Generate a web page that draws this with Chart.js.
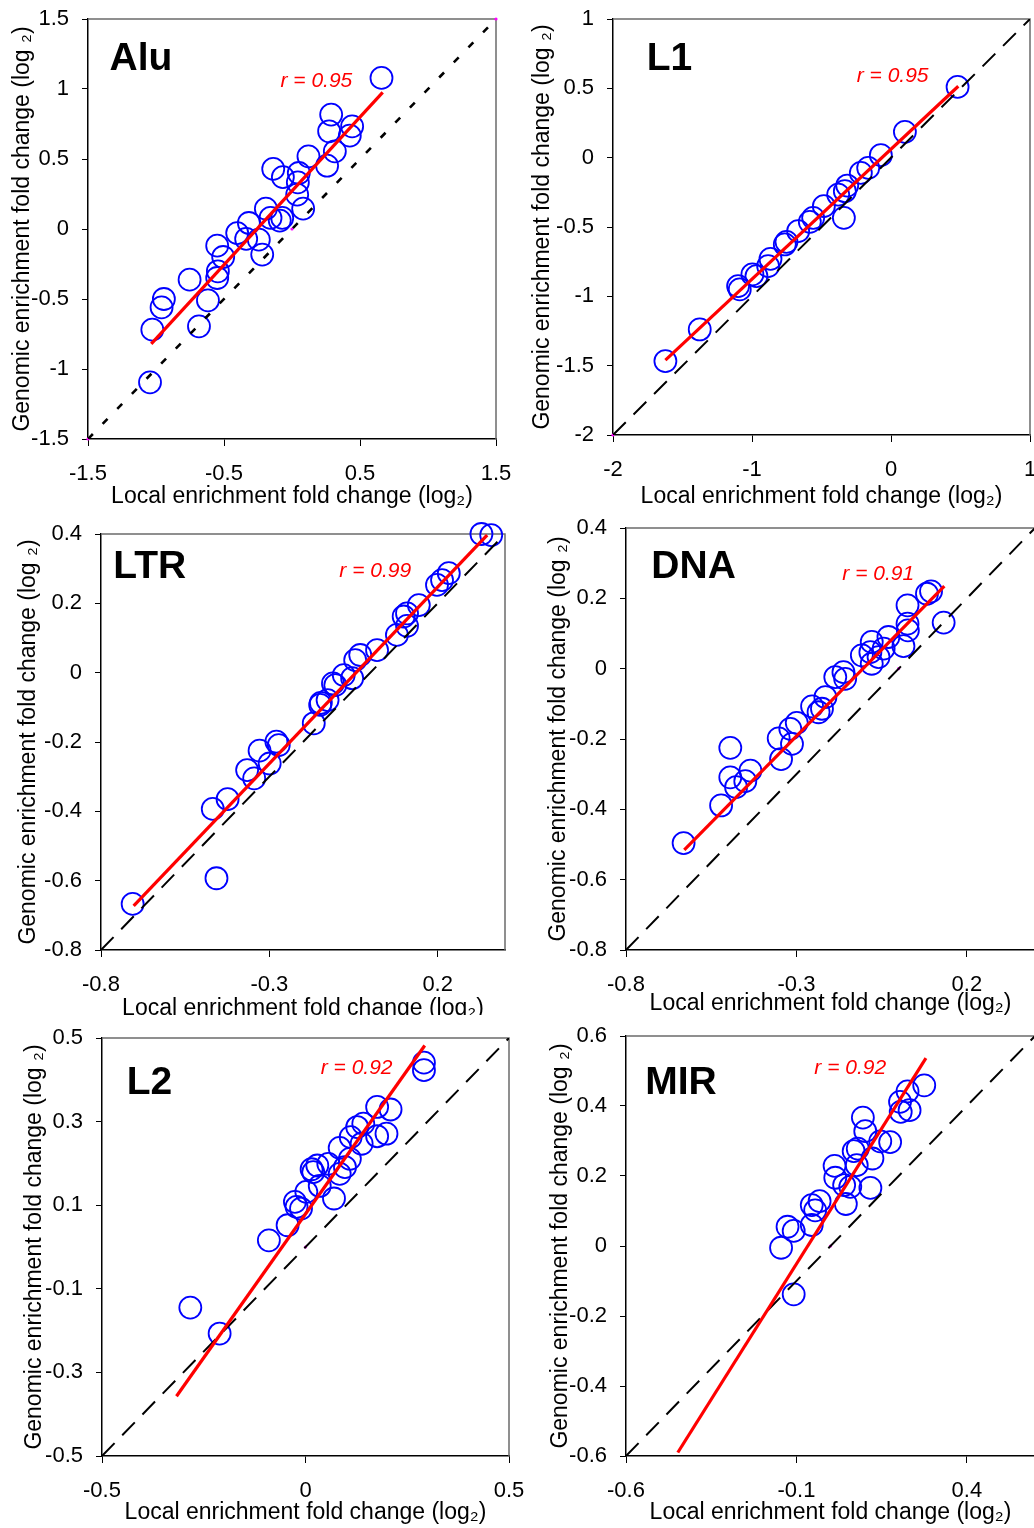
<!DOCTYPE html>
<html>
<head>
<meta charset="utf-8">
<script src="https://cdn.jsdelivr.net/npm/chart.js@4.4.1/dist/chart.umd.min.js"></script>
<style>
    html, body { margin: 0; padding: 0; background: #fff; }
    body { width: 1034px; height: 1528px; position: relative; overflow: hidden; }
    canvas { position: absolute; }
</style>
</head>
<body>
<script>
// 1. Data (local = x, genomic = y, both log2 fold change)
const aluLocal = [0.658, 0.288, 0.442, 0.425, 0.273, 0.315, 0.258, 0.121, -0.138, -0.067, 0.05, 0.043, 0.038, 0.082, -0.192, -0.158, -0.072, -0.09, -0.317, -0.403, -0.337, -0.244, -0.219, -0.55, -0.506, -0.545, -0.55, -0.753, -0.618, -0.942, -0.959, -1.027, -0.684, -1.044];
const aluGenomic = [1.079, 0.817, 0.733, 0.667, 0.698, 0.555, 0.452, 0.519, 0.429, 0.371, 0.40, 0.333, 0.245, 0.145, 0.145, 0.079, 0.079, 0.06, 0.043, -0.029, -0.071, -0.076, -0.183, -0.119, -0.2, -0.302, -0.35, -0.362, -0.51, -0.5, -0.56, -0.719, -0.695, -1.095];
const aluFitX = [-1.035, 0.667];
const aluFitY = [-0.821, 0.976];

const l1Local = [0.479, 0.1, -0.073, -0.164, -0.217, -0.315, -0.332, -0.38, -0.339, -0.483, -0.56, -0.584, -0.668, -0.752, -0.764, -0.867, -0.884, -0.968, -0.997, -1.088, -1.1, -1.376, -1.623];
const l1Genomic = [0.51, 0.186, 0.018, -0.074, -0.11, -0.201, -0.242, -0.266, -0.434, -0.35, -0.434, -0.463, -0.53, -0.607, -0.626, -0.73, -0.782, -0.854, -0.842, -0.95, -0.926, -1.239, -1.467];
const l1FitX = [-1.623, 0.484];
const l1FitY = [-1.46, 0.515];

const ltrLocal = [0.33, 0.359, 0.233, 0.198, 0.213, 0.144, 0.109, 0.099, 0.109, 0.079, 0.02, -0.03, -0.045, -0.054, -0.079, -0.104, -0.111, -0.127, -0.147, -0.149, -0.168, -0.272, -0.279, -0.329, -0.299, -0.366, -0.345, -0.424, -0.468, -0.457, -0.706];
const ltrGenomic = [0.4, 0.397, 0.287, 0.253, 0.267, 0.195, 0.171, 0.162, 0.135, 0.109, 0.065, 0.051, 0.036, -0.016, -0.007, -0.036, -0.031, -0.079, -0.087, -0.093, -0.146, -0.209, -0.199, -0.225, -0.262, -0.281, -0.305, -0.365, -0.393, -0.593, -0.667];
const ltrFitX = [-0.703, 0.347];
const ltrFitY = [-0.673, 0.397];

const dnaLocal = [0.095, 0.083, 0.026, 0.132, 0.026, 0.027, 0.014, -0.03, -0.044, -0.079, -0.083, -0.059, -0.079, -0.108, -0.162, -0.186, -0.157, -0.215, -0.225, -0.254, -0.235, -0.299, -0.318, -0.352, -0.313, -0.345, -0.494, -0.435, -0.494, -0.45, -0.477, -0.521, -0.631];
const dnaGenomic = [0.22, 0.213, 0.18, 0.131, 0.128, 0.109, 0.064, 0.09, 0.057, 0.076, 0.047, 0.033, 0.014, 0.038, -0.01, -0.024, -0.029, -0.081, -0.114, -0.107, -0.124, -0.154, -0.171, -0.198, -0.214, -0.257, -0.225, -0.29, -0.309, -0.32, -0.337, -0.389, -0.496];
const dnaFitX = [-0.629, 0.134];
const dnaFitY = [-0.515, 0.235];

const l2Local = [0.291, 0.291, 0.176, 0.209, 0.199, 0.176, 0.142, 0.127, 0.138, 0.111, 0.084, 0.109, 0.097, 0.084, 0.056, 0.029, 0.015, 0.019, 0.035, 0.07, 0.002, -0.026, -0.022, -0.011, -0.044, -0.09, -0.283, -0.211];
const l2Genomic = [0.441, 0.423, 0.335, 0.329, 0.271, 0.265, 0.295, 0.287, 0.247, 0.263, 0.237, 0.211, 0.191, 0.175, 0.199, 0.195, 0.186, 0.179, 0.146, 0.116, 0.132, 0.108, 0.096, 0.092, 0.052, 0.016, -0.145, -0.207];
const l2FitX = [-0.317, 0.293];
const l2FitY = [-0.357, 0.482];

const mirLocal = [0.275, 0.226, 0.204, 0.232, 0.206, 0.095, 0.102, 0.175, 0.146, 0.068, 0.08, 0.123, 0.077, 0.012, 0.014, 0.04, 0.058, 0.117, 0.045, -0.032, -0.055, -0.045, -0.055, -0.126, -0.108, -0.145, -0.108];
const mirGenomic = [0.459, 0.442, 0.412, 0.388, 0.383, 0.367, 0.328, 0.297, 0.299, 0.271, 0.278, 0.25, 0.231, 0.229, 0.195, 0.174, 0.169, 0.166, 0.12, 0.128, 0.117, 0.102, 0.06, 0.055, 0.043, -0.005, -0.138];
const mirFitX = [-0.448, 0.28];
const mirFitY = [-0.59, 0.537];

// stray magenta marks visible in the source figure
const aluMarkX = [-1.5, 0, 1.5];
const aluMarkY = [-1.5, 0, 1.5];
const l1MarkX = [-2];
const l1MarkY = [-2];
const zeroMarkX = [0];
const zeroMarkY = [0];

// tick labels
const aluTicksX = [-1.5, -0.5, 0.5, 1.5];
const aluTicksY = [-1.5, -1, -0.5, 0, 0.5, 1, 1.5];
const l1TicksX = [-2, -1, 0, 1];
const l1TicksY = [-2, -1.5, -1, -0.5, 0, 0.5, 1];
const te8TicksX = [-0.8, -0.3, 0.2];
const te8TicksY = [-0.8, -0.6, -0.4, -0.2, 0, 0.2, 0.4];
const l2TicksX = [-0.5, 0, 0.5];
const l2TicksY = [-0.5, -0.3, -0.1, 0.1, 0.3, 0.5];
const mirTicksX = [-0.6, -0.1, 0.4];
const mirTicksY = [-0.6, -0.4, -0.2, 0, 0.2, 0.4, 0.6];

const xTitle = 'Local enrichment fold change (log\u2082)';
const yTitle = 'Genomic enrichment fold change (log \u2082)';

// 2. Panel layout (page pixels of each plot frame)
const panels = [
    { name: 'Alu', r: 'r = 0.95', xs: aluLocal, ys: aluGenomic, fx: aluFitX, fy: aluFitY, mx: aluMarkX, my: aluMarkY,
      range: [-1.5, 1.5], ticksX: aluTicksX, ticksY: aluTicksY, dash: [7, 14], dashWidth: 2.6,
      area: { l: 87.5, t: 19, r: 495.7, b: 439 }, yTitleX: 22, xTitleY: 497, nameAt: [109, 70], rAt: [280, 87] },
    { name: 'L1', r: 'r = 0.95', xs: l1Local, ys: l1Genomic, fx: l1FitX, fy: l1FitY, mx: l1MarkX, my: l1MarkY,
      range: [-2, 1], ticksX: l1TicksX, ticksY: l1TicksY, dash: [18, 11], dashWidth: 2,
      area: { l: 613.3, t: 19.3, r: 1030, b: 435.7 }, yTitleX: 543, xTitleY: 497, nameAt: [647, 70], rAt: [857, 82] },
    { name: 'LTR', r: 'r = 0.99', xs: ltrLocal, ys: ltrGenomic, fx: ltrFitX, fy: ltrFitY, mx: [], my: [],
      range: [-0.8, 0.4], ticksX: te8TicksX, ticksY: te8TicksY, dash: [18, 11], dashWidth: 2,
      area: { l: 100.7, t: 534, r: 504.3, b: 950 }, yTitleX: 28, xTitleY: 1009, clipBottom: 1015, nameAt: [113, 578], rAt: [339, 577] },
    { name: 'DNA', r: 'r = 0.91', xs: dnaLocal, ys: dnaGenomic, fx: dnaFitX, fy: dnaFitY, mx: zeroMarkX, my: zeroMarkY,
      range: [-0.8, 0.4], ticksX: te8TicksX, ticksY: te8TicksY, dash: [18, 11], dashWidth: 2,
      area: { l: 625.7, t: 527.7, r: 1035, b: 949.3 }, yTitleX: 558, xTitleY: 1003, nameAt: [651, 578], rAt: [842, 580] },
    { name: 'L2', r: 'r = 0.92', xs: l2Local, ys: l2Genomic, fx: l2FitX, fy: l2FitY, mx: zeroMarkX, my: zeroMarkY,
      range: [-0.5, 0.5], ticksX: l2TicksX, ticksY: l2TicksY, dash: [18, 11], dashWidth: 2,
      area: { l: 102.3, t: 1037.7, r: 509, b: 1455.7 }, yTitleX: 35, xTitleY: 1512, nameAt: [127, 1094], rAt: [321, 1074] },
    { name: 'MIR', r: 'r = 0.92', xs: mirLocal, ys: mirGenomic, fx: mirFitX, fy: mirFitY, mx: zeroMarkX, my: zeroMarkY,
      range: [-0.6, 0.6], ticksX: mirTicksX, ticksY: mirTicksY, dash: [18, 11], dashWidth: 2,
      area: { l: 625.7, t: 1035.7, r: 1035, b: 1456 }, yTitleX: 560, xTitleY: 1512, nameAt: [645, 1094], rAt: [814, 1074] }
];

const FONT = '"Liberation Sans", Arial, Helvetica, sans-serif';
// generous top/right padding so Chart.js never shrinks the plot for edge labels
const Y_AXIS_W = 90, PAD_TOP = 32, PAD_RIGHT = 36, X_AXIS_H = 80;
const TICK_SIZE = 22;
const TITLE_SIZE = 23;
const TITLE_LH = TITLE_SIZE * 1.2;

const zip = (xs, ys) => xs.map((x, i) => ({ x, y: ys[i] }));

// 3. Frame + panel labels
const panelDecor = {
    id: 'panelDecor',
    beforeDatasetsDraw(chart) {
        const { ctx, chartArea: a } = chart;
        ctx.save();
        ctx.strokeStyle = '#6b6b6b';
        ctx.lineWidth = 1.5;
        ctx.beginPath();
        ctx.moveTo(a.left, a.top);
        ctx.lineTo(a.right, a.top);
        ctx.lineTo(a.right, a.bottom);
        ctx.stroke();
        ctx.restore();
    },
    afterDatasetsDraw(chart, args, o) {
        const ctx = chart.ctx;
        ctx.save();
        ctx.textAlign = 'left';
        ctx.textBaseline = 'alphabetic';
        ctx.fillStyle = '#000';
        ctx.font = `bold 39px ${FONT}`;
        ctx.fillText(o.name, o.nameX, o.nameY);
        ctx.fillStyle = '#ff0000';
        ctx.font = `italic 21px ${FONT}`;
        ctx.fillText(o.r, o.rX, o.rY);
        ctx.restore();
    }
};

function axisOptions(p, isX, titlePad) {
    const ticks = isX ? p.ticksX : p.ticksY;
    return {
        type: 'linear',
        min: p.range[0],
        max: p.range[1],
        afterFit: s => { if (isX) s.height = X_AXIS_H; else s.width = Y_AXIS_W; },
        afterBuildTicks: s => { s.ticks = ticks.map(v => ({ value: v })); },
        ticks: {
            autoSkip: false,
            maxRotation: 0,
            padding: isX ? 15 : 13,
            color: '#000',
            font: { family: FONT, size: TICK_SIZE },
            callback: v => String(v)
        },
        grid: { drawOnChartArea: false, tickLength: isX ? 7 : 6, color: '#000', lineWidth: 1 },
        border: { color: '#000', width: 1.5 },
        title: {
            display: true,
            text: isX ? xTitle : yTitle,
            color: '#000',
            font: { family: FONT, size: TITLE_SIZE, lineHeight: 1.2 },
            padding: isX ? { top: 0, bottom: titlePad } : { top: titlePad, bottom: 0 }
        }
    };
}

function makePanel(p) {
    const left = p.area.l - Y_AXIS_W;
    const top = p.area.t - PAD_TOP;
    const width = Math.round(p.area.r + PAD_RIGHT - left);
    const height = Math.round(p.area.b + X_AXIS_H - top);

    const canvas = document.createElement('canvas');
    canvas.width = width;
    canvas.height = height;
    canvas.style.left = left + 'px';
    canvas.style.top = top + 'px';
    canvas.style.width = width + 'px';
    canvas.style.height = height + 'px';
    if (p.clipBottom) canvas.style.clipPath = `inset(0 0 ${top + height - p.clipBottom}px 0)`;
    document.body.appendChild(canvas);

    const xTitlePad = (top + height) - p.xTitleY - TITLE_LH / 2;
    const yTitlePad = (p.yTitleX - left) - TITLE_LH / 2;

    new Chart(canvas, {
        type: 'scatter',
        data: {
            datasets: [
                {
                    data: zip(p.fx, p.fy), showLine: true, borderColor: '#ff0000', borderWidth: 3.2,
                    pointRadius: 0, order: 0
                },
                {
                    data: zip(p.range, p.range), showLine: true, borderColor: '#000', borderWidth: p.dashWidth,
                    borderDash: p.dash, pointRadius: 0, order: 1
                },
                {
                    data: zip(p.mx, p.my), pointRadius: 1.6, backgroundColor: '#ff00ff', borderWidth: 0,
                    clip: false, order: 2
                },
                {
                    data: zip(p.xs, p.ys), pointRadius: 11, borderColor: '#0000ff', borderWidth: 1.8,
                    backgroundColor: 'rgba(0,0,0,0)', clip: false, order: 3
                }
            ]
        },
        options: {
            responsive: false,
            animation: false,
            devicePixelRatio: 1,
            layout: { autoPadding: false, padding: { top: PAD_TOP, right: PAD_RIGHT, left: 0, bottom: 0 } },
            plugins: {
                legend: { display: false },
                tooltip: { enabled: false },
                panelDecor: {
                    name: p.name, nameX: p.nameAt[0] - left, nameY: p.nameAt[1] - top,
                    r: p.r, rX: p.rAt[0] - left, rY: p.rAt[1] - top
                }
            },
            scales: {
                x: axisOptions(p, true, xTitlePad),
                y: axisOptions(p, false, yTitlePad)
            }
        },
        plugins: [panelDecor]
    });
}

panels.forEach(makePanel);
</script>
</body>
</html>
